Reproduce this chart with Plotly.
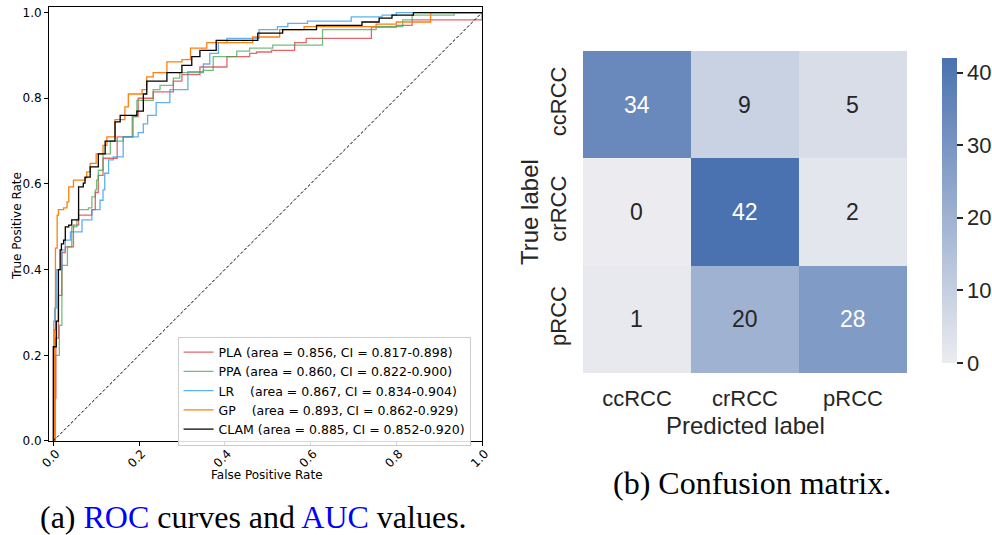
import plotly.graph_objects as go

# ---------------- ROC data ----------------
pla_fpr = [0, 0.003, 0.006, 0.012, 0.02, 0.028, 0.047, 0.059, 0.09, 0.098, 0.105, 0.116, 0.149, 0.186, 0.198,
           0.233, 0.28, 0.3, 0.342, 0.405, 0.458, 0.474, 0.509, 0.563, 0.59, 0.742, 0.8, 0.837, 0.947, 1.0]
pla_tpr = [0, 0.1, 0.24, 0.34, 0.44, 0.453, 0.504, 0.527, 0.54, 0.58, 0.62, 0.66, 0.71, 0.757, 0.80,
           0.815, 0.84, 0.855, 0.873, 0.897, 0.905, 0.908, 0.912, 0.93, 0.94, 0.966, 0.97, 0.983, 0.983, 1.0]

ppa_fpr = [0, 0.005, 0.014, 0.02, 0.033, 0.043, 0.055, 0.059, 0.082, 0.09, 0.098, 0.101, 0.105, 0.116, 0.133,
           0.163, 0.184, 0.195, 0.233, 0.249, 0.28, 0.295, 0.35, 0.373, 0.428, 0.458, 0.512, 0.628, 0.753,
           0.815, 0.837, 0.935, 1.0]
ppa_tpr = [0, 0.2, 0.27, 0.41, 0.453, 0.5, 0.516, 0.54, 0.544, 0.57, 0.586, 0.609, 0.632, 0.67, 0.70,
           0.71, 0.757, 0.795, 0.82, 0.83, 0.847, 0.86, 0.865, 0.897, 0.91, 0.917, 0.924, 0.96, 0.967,
           0.983, 0.994, 1.0, 1.0]

lr_fpr = [0, 0.001, 0.003, 0.008, 0.02, 0.028, 0.04, 0.067, 0.09, 0.109, 0.116, 0.12, 0.129, 0.14, 0.163,
          0.198, 0.21, 0.22, 0.24, 0.272, 0.314, 0.35, 0.365, 0.385, 0.405, 0.48, 0.523, 0.547, 0.593, 0.695,
          0.767, 0.8, 1.0]
lr_tpr = [0, 0.28, 0.31, 0.40, 0.446, 0.469, 0.488, 0.516, 0.54, 0.562, 0.586, 0.625, 0.656, 0.663, 0.71,
          0.72, 0.74, 0.76, 0.79, 0.82, 0.862, 0.88, 0.905, 0.93, 0.94, 0.96, 0.967, 0.975, 0.98, 0.99,
          0.994, 1.0, 1.0]

gp_fpr = [0, 0.003, 0.005, 0.009, 0.012, 0.024, 0.032, 0.036, 0.047, 0.074, 0.078, 0.086, 0.1, 0.116, 0.125,
          0.144, 0.167, 0.175, 0.207, 0.218, 0.233, 0.265, 0.3, 0.32, 0.358, 0.465, 0.528, 0.585, 0.753, 0.8,
          0.88, 1.0]
gp_tpr = [0, 0.26, 0.45, 0.527, 0.54, 0.544, 0.558, 0.593, 0.609, 0.614, 0.628, 0.648, 0.67, 0.69, 0.71,
          0.75, 0.78, 0.81, 0.82, 0.85, 0.86, 0.885, 0.89, 0.917, 0.93, 0.943, 0.96, 0.967, 0.973, 0.978,
          1.0, 1.0]

clam_fpr = [0, 0.0, 0.007, 0.012, 0.016, 0.019, 0.024, 0.028, 0.036, 0.043, 0.059, 0.07, 0.074, 0.086, 0.105,
            0.121, 0.144, 0.156, 0.195, 0.21, 0.218, 0.265, 0.3, 0.323, 0.342, 0.38, 0.477, 0.535, 0.614,
            0.72, 0.76, 0.79, 0.84, 1.0]
clam_tpr = [0, 0.22, 0.28, 0.40, 0.446, 0.46, 0.469, 0.50, 0.504, 0.516, 0.593, 0.602, 0.616, 0.64, 0.67,
            0.70, 0.745, 0.76, 0.77, 0.81, 0.84, 0.86, 0.877, 0.897, 0.912, 0.935, 0.952, 0.96, 0.97,
            0.978, 0.987, 0.994, 1.0, 1.0]

NB = "\u00a0"
roc_names = [
    "PLA (area = 0.856, CI = 0.817-0.898)",
    "PPA (area = 0.860, CI = 0.822-0.900)",
    "LR" + NB * 3 + " (area = 0.867, CI = 0.834-0.904)",
    "GP" + NB * 3 + " (area = 0.893, CI = 0.862-0.929)",
    "CLAM (area = 0.885, CI = 0.852-0.920)",
]
roc_colors = ["rgba(220,50,60,0.75)", "rgba(50,165,70,0.7)", "rgba(40,150,235,0.75)",
              "#ff7f0e", "#000000"]
roc_fprs = [pla_fpr, ppa_fpr, lr_fpr, gp_fpr, clam_fpr]
roc_tprs = [pla_tpr, ppa_tpr, lr_tpr, gp_tpr, clam_tpr]

ticks01 = [0.0, 0.2, 0.4, 0.6, 0.8, 1.0]
tick01_text = ["0.0", "0.2", "0.4", "0.6", "0.8", "1.0"]

# ---------------- Confusion matrix data ----------------
classes = ["ccRCC", "crRCC", "pRCC"]
cm = [[34, 9, 5],
      [0, 42, 2],
      [1, 20, 28]]
cbar_ticks = [0, 10, 20, 30, 40]

SANS = "Liberation Sans, Arial"
DARK = "#262626"
W, H = 992, 535

fig = go.Figure()

for name, col, fx, ty in zip(roc_names, roc_colors, roc_fprs, roc_tprs):
    fig.add_trace(go.Scatter(x=fx, y=ty, mode="lines", name=name, line=dict(color=col, width=1.3, shape="hv"),
                             xaxis="x", yaxis="y"))

fig.add_trace(go.Scatter(x=[0, 1], y=[0, 1], mode="lines", showlegend=False,
                         line=dict(color="black", width=1, dash="3px,2px"), xaxis="x", yaxis="y"))

fig.add_trace(go.Heatmap(
    z=cm, x=classes, y=classes, xaxis="x2", yaxis="y2", zmin=0, zmax=42,
    colorscale=[[0, "rgb(236,236,240)"], [1, "rgb(74,114,176)"]],
    showscale=True,
    colorbar=dict(x=0.9395, xanchor="left", y=0.6065, yanchor="middle", len=0.6075, lenmode="fraction",
                  thickness=15, outlinewidth=0, tickvals=cbar_ticks, ticks="outside", ticklen=6,
                  tickwidth=1.5, tickcolor=DARK, tickfont=dict(family=SANS, size=22, color=DARK)),
    hoverinfo="skip"))

annotations = []
for i, row in enumerate(cm):
    for j, v in enumerate(row):
        annotations.append(dict(x=classes[j], y=classes[i], xref="x2", yref="y2", text=str(v), showarrow=False,
                                font=dict(family=SANS, size=23, color="white" if v > 25 else DARK)))


def paper_text(text, px, py, font, angle=0):
    return dict(x=px / W, y=1 - py / H, xref="paper", yref="paper", xanchor="center", yanchor="middle",
                showarrow=False, text=text, textangle=angle, font=font)


# axis titles
annotations.append(paper_text("False Positive Rate", 267, 475, dict(family="DejaVu Sans", size=12, color="black")))
annotations.append(paper_text("True Positive Rate", 17, 226, dict(family="DejaVu Sans", size=12, color="black"),
                              angle=-90))
annotations.append(paper_text("Predicted label", 745, 425, dict(family=SANS, size=24, color=DARK)))
annotations.append(paper_text("True label", 529, 212, dict(family=SANS, size=24, color=DARK), angle=-90))

# captions
annotations.append(paper_text("(a) <span style='color:#0000ff'>ROC</span> curves and "
                              "<span style='color:#0000ff'>AUC</span> values.", 253, 517,
                              dict(family="Liberation Serif", size=32, color="black")))
annotations.append(paper_text("(b) Confusion matrix.", 752, 483,
                              dict(family="Liberation Serif", size=32, color="black")))

axis_common = dict(showgrid=False, zeroline=False, showline=True, mirror=True, linecolor="black",
                   linewidth=1, ticks="outside", ticklen=4, tickwidth=1, tickcolor="black", automargin=False,
                   tickfont=dict(family="DejaVu Sans", size=12, color="black"))

fig.update_layout(
    width=W, height=H, margin=dict(l=0, r=0, t=0, b=0, autoexpand=False),
    paper_bgcolor="white", plot_bgcolor="white",
    showlegend=True,
    legend=dict(x=0.179, y=0.371, xanchor="left", yanchor="top", bgcolor="rgba(255,255,255,0.85)",
                bordercolor="#cccccc", borderwidth=1, font=dict(family="DejaVu Sans", size=12.5, color="black"),
                tracegroupgap=0, itemwidth=30),
    xaxis=dict(domain=[0.0494, 0.4859], range=[-0.01, 1.0], tickvals=ticks01, ticktext=tick01_text,
               tickangle=-45, anchor="y", ticklabelstandoff=-4, ticklabelshift=3, **axis_common),
    yaxis=dict(domain=[0.1757, 0.9869], range=[0, 1.013], tickvals=ticks01, ticktext=tick01_text, anchor="x",
               **axis_common),
    xaxis2=dict(domain=[0.5877, 0.9143], anchor="y2", showgrid=False, zeroline=False, showline=False,
                ticks="", automargin=False, ticklabelstandoff=10, tickfont=dict(family=SANS, size=22, color=DARK)),
    yaxis2=dict(domain=[0.3028, 0.9047], anchor="x2", autorange="reversed", showgrid=False, zeroline=False,
                showline=False, ticks="", tickangle=-90, automargin=False, ticklabelstandoff=12,
                tickfont=dict(family=SANS, size=22, color=DARK)),
    annotations=annotations,
)

fig.write_html("out.html", config={"displayModeBar": False},
               post_script="document.body.style.margin='0px';")
